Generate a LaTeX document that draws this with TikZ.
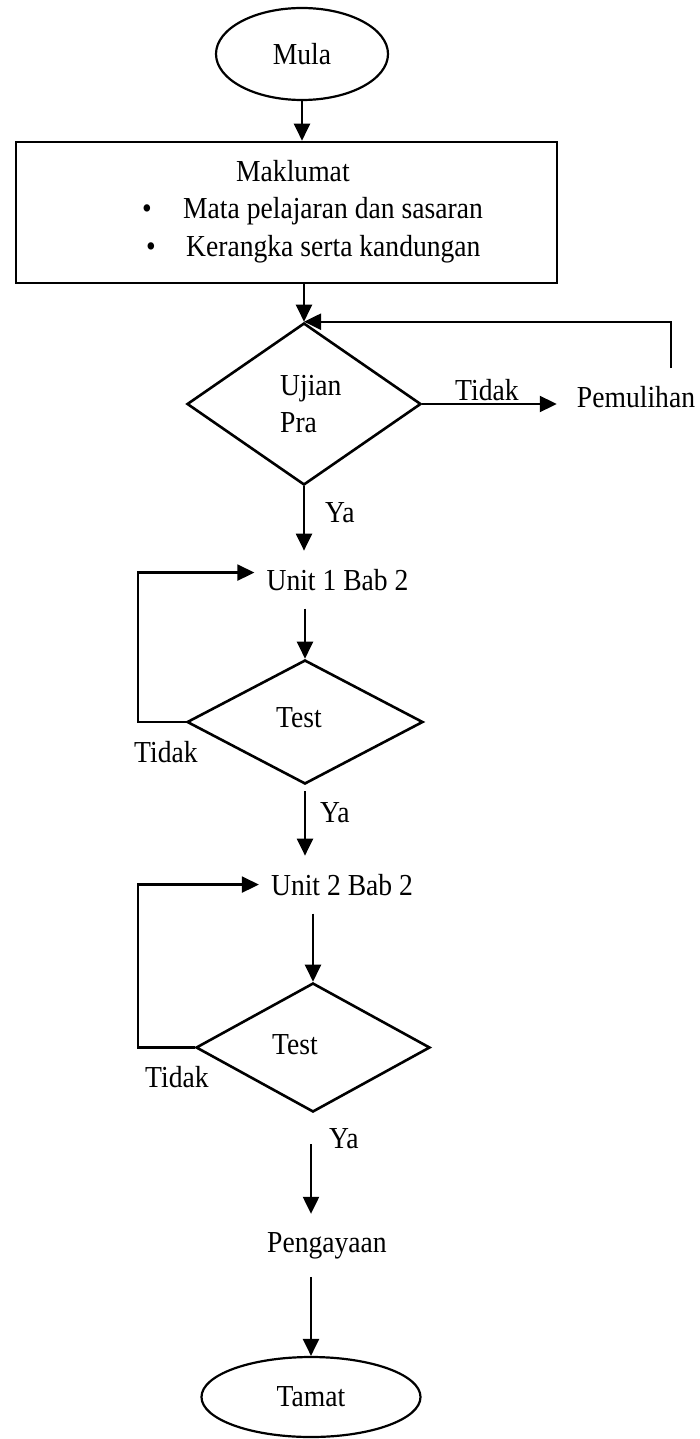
\documentclass[tikz,border=0pt]{standalone}
\usepackage{fontspec}
\setmainfont[FakeStretch=0.905]{Liberation Serif}
\usetikzlibrary{shapes.geometric,arrows.meta}
\newcommand\chartfont{\fontsize{30.5}{36}\selectfont}
\tikzset{
  every node/.style={font=\chartfont},
  arr/.style={line width=2.2pt, -{Triangle[length=17pt,width=16pt]}},
  terminal/.style={ellipse, draw, line width=2.2pt, inner sep=0pt},
  decision/.style={diamond, draw, line width=2.6pt, inner sep=0pt},
  infobox/.style={rectangle, draw, line width=2.6pt, inner sep=0pt},
  stepbox/.style={inner xsep=12pt, inner ysep=18pt, anchor=base},
  lbl/.style={inner sep=0pt, anchor=base west},
}
\begin{document}
\begin{tikzpicture}[x=1pt, y=-1pt]
  \fill[white] (0,0) rectangle (699,1439);
  \useasboundingbox (0,0) rectangle (699,1439);

  % start
  \node[terminal, minimum width=172pt, minimum height=92pt] (mula) at (302,54) {Mula};

  % information box
  \node[infobox, minimum width=541pt, minimum height=141pt] (info) at (286.5,212.5) {};
  \node[lbl] (mak) at (236,182) {Maklumat};
  \node[lbl] (b1) at (142,219) {•};
  \node[lbl] (l1) at (183,219) {Mata pelajaran dan sasaran};
  \node[lbl] (b2) at (146,257) {•};
  \node[lbl] (l2) at (186,257) {Kerangka serta kandungan};

  % pre-test
  \node[decision, minimum width=234pt, minimum height=162pt] (pra) at (304,404) {};
  \node[lbl] (uj) at (280,395) {Ujian};
  \node[lbl] (pr) at (280,432) {Pra};
  \node[stepbox] (pem) at (636,407) {Pemulihan};
  \node[lbl] (tdk0) at (455,400) {Tidak};
  \node[lbl] (ya0) at (325,522) {Ya};
  \coordinate (ret) at (671,368);

  % unit 1
  \node[stepbox] (u1) at (337.5,590) {Unit 1 Bab 2};
  \node[decision, minimum width=236pt, minimum height=124pt] (t1) at (305,722) {};
  \node[lbl] (tt1) at (276,727) {Test};
  \node[lbl] (tdk1) at (134,762) {Tidak};
  \node[lbl] (ya1) at (320,822) {Ya};

  % unit 2
  \node[stepbox] (u2) at (342,895) {Unit 2 Bab 2};
  \node[decision, minimum width=234pt, minimum height=129pt] (t2) at (313,1047.5) {};
  \node[lbl] (tt2) at (272,1054) {Test};
  \node[lbl] (tdk2) at (145,1087) {Tidak};
  \node[lbl] (ya2) at (329,1148) {Ya};

  % enrichment and end
  \node[stepbox] (pen) at (327,1252) {Pengayaan};
  \node[terminal, minimum width=219pt, minimum height=80pt] (tamat) at (311,1397) {Tamat};

  \coordinate (lx) at (138,0);

  % connectors
  \draw[arr] (mula.south) -- (mula.south |- info.north);
  \draw[arr] (pra.north |- info.south) -- (pra.north);
  \draw[arr, shorten >=8pt] (pra.east) -- (pra.east -| pem.west);
  \draw[arr] (ret) |- (pra.north);
  \draw[arr] (pra.south) -- (pra.south |- u1.north);

  \draw[arr] (t1.north |- u1.south) -- (t1.north);
  \draw[arr] (t1.west) -- (t1.west -| lx) |- ([yshift=7pt]u1.west);
  \draw[arr, shorten <=6pt] (t1.south) -- (t1.south |- u2.north);

  \draw[arr] (t2.north |- u2.south) -- (t2.north);
  \draw[arr] (t2.west) -- (t2.west -| lx) |- (u2.west);
  \draw[arr, shorten <=31pt] (tamat.north |- t2.south) -- (tamat.north |- pen.north);

  \draw[arr] (tamat.north |- pen.south) -- (tamat.north);
\end{tikzpicture}
\end{document}
